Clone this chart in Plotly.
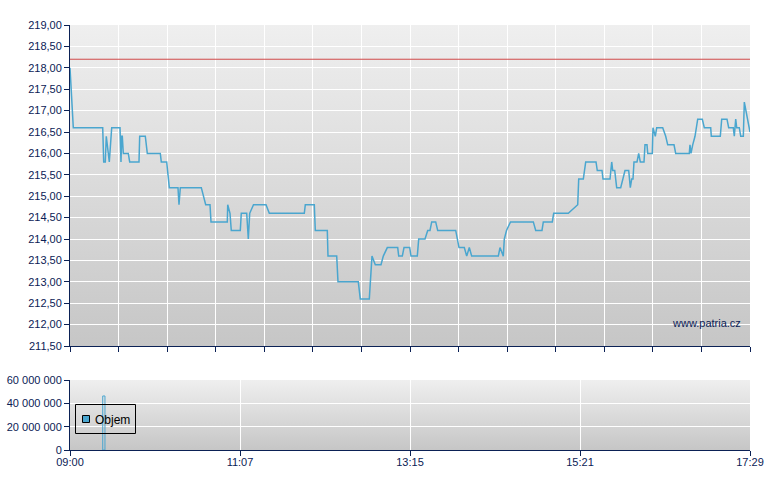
import base64
from datetime import datetime
import plotly.graph_objects as go

DAY = "2024-05-17"

# ---- data ----
price_times = [
    "09:00:00", "09:02:28", "09:24:29", "09:25:14", "09:26:25", "09:27:10", "09:29:25", "09:31:13",
    "09:37:26", "09:38:10", "09:38:42", "09:39:09", "09:39:54", "09:43:38", "09:44:41", "09:51:39",
    "09:52:10", "09:56:22", "09:57:52", "10:07:36", "10:08:20", "10:12:23", "10:14:20", "10:20:50",
    "10:21:35", "10:22:34", "10:38:17", "10:39:47", "10:41:35", "10:44:48", "10:45:33", "10:57:45",
    "10:58:03", "10:59:46", "11:00:44", "11:07:28", "11:08:13", "11:12:16", "11:13:28", "11:14:31",
    "11:17:21", "11:26:43", "11:29:11", "11:55:23", "11:56:08", "12:02:52", "12:03:37", "12:12:36",
    "12:13:07", "12:19:38", "12:20:36", "12:35:48", "12:37:18", "12:44:02", "12:46:03", "12:48:32",
    "12:52:48", "12:54:31", "12:57:31", "13:05:18", "13:06:03", "13:08:44", "13:10:01", "13:14:17",
    "13:15:15", "13:19:58", "13:21:01", "13:25:44", "13:27:45", "13:29:28", "13:30:45", "13:33:44",
    "13:35:14", "13:48:43", "13:51:11", "13:55:09", "13:56:57", "13:58:53", "14:00:41", "14:20:36",
    "14:21:52", "14:24:20", "14:25:05", "14:26:44", "14:29:44", "14:46:48", "14:48:36", "14:53:18",
    "14:54:17", "15:01:01", "15:02:04", "15:13:00", "15:20:02", "15:20:47", "15:24:14", "15:26:01",
    "15:33:44", "15:34:42", "15:38:13", "15:38:58", "15:44:13", "15:45:29", "15:46:14", "15:47:44",
    "15:49:13", "15:52:13", "15:55:26", "15:58:12", "15:59:24", "16:00:27", "16:01:25", "16:02:10",
    "16:04:25", "16:05:41", "16:06:53", "16:09:40", "16:10:24", "16:11:54", "16:12:26", "16:15:52",
    "16:16:23", "16:18:07", "16:19:10", "16:23:39", "16:25:54", "16:27:24", "16:32:07", "16:33:23",
    "16:43:34", "16:44:05", "16:44:50", "16:46:07", "16:47:50", "16:49:51", "16:53:18", "16:54:48",
    "16:59:35", "17:00:02", "17:06:46", "17:07:49", "17:11:47", "17:13:03", "17:16:30", "17:17:15",
    "17:18:18", "17:19:03", "17:21:00", "17:22:03", "17:24:00", "17:24:45", "17:29:00",
]
price_values = [
    218.0, 216.6, 216.6, 215.8, 215.8, 216.4, 215.8, 216.6,
    216.6, 215.8, 216.4, 216.4, 216.0, 216.0, 215.8, 215.8,
    216.4, 216.4, 216.0, 216.0, 215.8, 215.8, 215.2, 215.2,
    214.8, 215.2, 215.2, 215.0, 214.8, 214.8, 214.4, 214.4,
    214.8, 214.6, 214.2, 214.2, 214.6, 214.6, 214.0, 214.6,
    214.8, 214.8, 214.6, 214.6, 214.8, 214.8, 214.2, 214.2,
    213.6, 213.6, 213.0, 213.0, 212.6, 212.6, 213.6, 213.4,
    213.4, 213.6, 213.8, 213.8, 213.6, 213.6, 213.8, 213.8,
    213.6, 213.6, 214.0, 214.0, 214.2, 214.2, 214.4, 214.4,
    214.2, 214.2, 213.8, 213.8, 213.6, 213.8, 213.6, 213.6,
    213.8, 213.6, 214.0, 214.2, 214.4, 214.4, 214.2, 214.2,
    214.4, 214.4, 214.6, 214.6, 214.8, 215.4, 215.4, 215.8,
    215.8, 215.6, 215.6, 215.4, 215.4, 215.8, 215.6, 215.6,
    215.2, 215.2, 215.6, 215.6, 215.2, 215.4, 215.4, 215.8,
    215.8, 216.0, 215.8, 215.8, 216.2, 216.2, 216.0, 216.0,
    216.6, 216.4, 216.6, 216.6, 216.4, 216.2, 216.2, 216.0,
    216.0, 216.2, 216.0, 216.2, 216.4, 216.8, 216.8, 216.6,
    216.6, 216.4, 216.4, 216.8, 216.8, 216.6, 216.6, 216.4,
    216.8, 216.6, 216.6, 216.4, 216.4, 217.2, 216.5,
]
previous_close = 218.2

volume_times = ["09:25:20"]
volume_values = [46300000]
volume_name = "Objem"

session_start = "09:00"
session_end = "17:29"
bottom_tick_labels = ["09:00", "11:07", "13:15", "15:21", "17:29"]

price_tick_values = [211.5, 212.0, 212.5, 213.0, 213.5, 214.0, 214.5, 215.0, 215.5,
                     216.0, 216.5, 217.0, 217.5, 218.0, 218.5, 219.0]
price_tick_labels = ["211,50", "212,00", "212,50", "213,00", "213,50", "214,00", "214,50", "215,00",
                     "215,50", "216,00", "216,50", "217,00", "217,50", "218,00", "218,50", "219,00"]
volume_tick_values = [0, 20000000, 40000000, 60000000]
volume_tick_labels = ["0", "20 000 000", "40 000 000", "60 000 000"]

# ---- helpers ----
def ts(t):
    if len(t) == 5:
        t = t + ":00"
    return datetime.strptime(DAY + " " + t, "%Y-%m-%d %H:%M:%S")

t0 = ts(session_start)
t1 = ts(session_end)
span = t1 - t0
top_ticks = [t0 + span * k / 14 for k in range(15)]
bottom_ticks = [t0 + span * k / 4 for k in range(5)]

NAVY = "#0b2155"
BLUE = "#4aa6cf"
FONT = "Liberation Sans"

# figure geometry (pixels)
W, H = 780, 490
ML, MR, MT, MB = 70, 30, 25, 40
PW, PH = W - ML - MR, H - MT - MB

def px_x(p):
    return (p - ML) / PW

def px_y(p):
    return (H - MB - p) / PH

top_bottom = px_y(346)
bot_top = px_y(380)

fig = go.Figure()

fig.add_trace(go.Scatter(
    x=[ts(t) for t in price_times], y=price_values, mode="lines",
    line=dict(color=BLUE, width=1.5), showlegend=False, hoverinfo="skip",
    xaxis="x", yaxis="y",
))

fig.add_trace(go.Bar(
    x=[ts(t) for t in volume_times], y=volume_values, width=100000, name=volume_name,
    marker=dict(color="rgba(0,0,0,0)", line=dict(color=BLUE, width=1)),
    showlegend=False, xaxis="x2", yaxis="y2",
))

svg = ('<svg xmlns="http://www.w3.org/2000/svg" width="100" height="100" viewBox="0 0 100 100" '
       'preserveAspectRatio="none"><defs><linearGradient id="g" x1="0" y1="0" x2="0" y2="1">'
       '<stop offset="0" stop-color="#efefef"/><stop offset="1" stop-color="#c6c6c6"/>'
       '</linearGradient></defs><rect width="100" height="100" fill="url(#g)"/></svg>')
src = "data:image/svg+xml;base64," + base64.b64encode(svg.encode()).decode()

axis_common = dict(
    showline=True, linecolor=NAVY, linewidth=1,
    ticks="outside", ticklen=5, tickcolor=NAVY, tickwidth=1,
    showgrid=True, gridcolor="white", gridwidth=1, zeroline=False,
    tickfont=dict(family=FONT, size=11, color=NAVY), automargin=False,
)

fig.update_layout(
    width=W, height=H,
    margin=dict(l=ML, r=MR, t=MT, b=MB, autoexpand=False),
    paper_bgcolor="white", plot_bgcolor="rgba(0,0,0,0)",
    font=dict(family=FONT, size=11, color=NAVY),
    xaxis=dict(domain=[0, 1], anchor="y", type="date", range=[t0, t1],
               tickvals=top_ticks, showticklabels=False, **axis_common),
    yaxis=dict(domain=[top_bottom, 1], anchor="x", range=[211.5, 219.0],
               tickvals=price_tick_values, ticktext=price_tick_labels, **axis_common),
    xaxis2=dict(domain=[0, 1], anchor="y2", type="date", range=[t0, t1],
                tickvals=bottom_ticks, ticktext=bottom_tick_labels,
                ticklabelstandoff=-3, **axis_common),
    yaxis2=dict(domain=[0, bot_top], anchor="x2", range=[0, 60000000],
                tickvals=volume_tick_values, ticktext=volume_tick_labels, **axis_common),
    showlegend=False,
    images=[
        dict(source=src, xref="paper", yref="paper", x=0, y=1, sizex=1, sizey=1 - top_bottom,
             xanchor="left", yanchor="top", sizing="stretch", layer="below"),
        dict(source=src, xref="paper", yref="paper", x=0, y=bot_top, sizex=1, sizey=bot_top,
             xanchor="left", yanchor="top", sizing="stretch", layer="below"),
    ],
    shapes=[
        dict(type="line", xref="x domain", yref="y", x0=0, x1=1, y0=previous_close, y1=previous_close,
             line=dict(color="#d04848", width=1)),
        # legend box
        dict(type="rect", xref="paper", yref="paper",
             x0=px_x(75.5), x1=px_x(135.5), y0=px_y(433.5), y1=px_y(404.5),
             line=dict(color="black", width=1), fillcolor="rgba(0,0,0,0)", layer="above"),
        # legend swatch
        dict(type="rect", xref="paper", yref="paper",
             x0=px_x(82.5), x1=px_x(89.5), y0=px_y(422.5), y1=px_y(415.5),
             line=dict(color="black", width=1), fillcolor=BLUE, layer="above"),
    ],
    annotations=[
        dict(text=volume_name, xref="paper", yref="paper", x=px_x(93), y=px_y(419.5),
             xanchor="left", yanchor="middle", showarrow=False,
             font=dict(family=FONT, size=12, color="black")),
        dict(text="www.patria.cz", xref="paper", yref="paper", x=px_x(743), y=px_y(323),
             xanchor="right", yanchor="middle", showarrow=False,
             font=dict(family=FONT, size=11, color=NAVY)),
    ],
)

fig.write_html("out.html", config={"displayModeBar": False},
               post_script="document.body.style.margin='0';")
